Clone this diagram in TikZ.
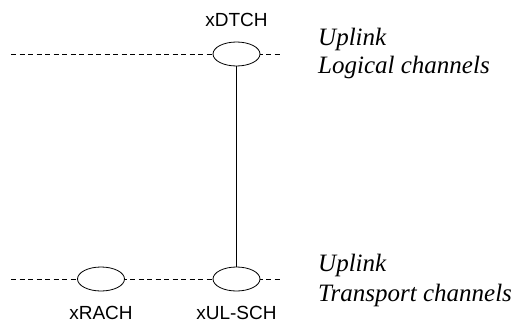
\documentclass[tikz,border=0pt]{standalone}
\usepackage{fontspec}
\usetikzlibrary{shapes.geometric}
\setmainfont{Liberation Serif}
\newfontfamily\labelfont{Liberation Sans}
\begin{document}
\begin{tikzpicture}[x=1pt,y=-1pt,
  chan/.style={draw,ellipse,line width=0.8pt,minimum width=47pt,minimum height=24pt,inner sep=0pt,fill=white},
  level/.style={dashed,dash pattern=on 5pt off 3.5pt,line width=0.7pt},
  link/.style={line width=0.8pt},
  chname/.style={font=\labelfont\fontsize{19}{22}\selectfont,inner sep=0pt,anchor=base},
  layer/.style={font=\itshape\fontsize{25}{29}\selectfont,inner sep=0pt,anchor=base west}]
  \useasboundingbox (0,0) rectangle (515,322);

  % channel levels
  \coordinate (topL) at (11,54);
  \coordinate (topR) at (282,54);
  \coordinate (botL) at (11,279);
  \coordinate (botR) at (282,279);
  \draw[level] (topL) -- (topR);
  \draw[level] (botL) -- (botR);

  % channels
  \node[chan] (dtch) at (236.5,54) {};
  \node[chan] (rach) at (101,279) {};
  \node[chan] (ulsch) at (236.5,279) {};
  \draw[link] (dtch) -- (ulsch);

  % channel names
  \node[chname] (dtchlbl) at (236.5,26.7) {xDTCH};
  \node[chname] (rachlbl) at (101,319.3) {xRACH};
  \node[chname] (ulschlbl) at (236.5,319.3) {xUL-SCH};

  % layer captions
  \node[layer] (up1) at (318,45.7) {Uplink};
  \node[layer] (logic) at (318,73.3) {Logical channels};
  \node[layer] (up2) at (318,271.7) {Uplink};
  \node[layer] (trans) at (318,301.7) {Transport channels};
\end{tikzpicture}
\end{document}
